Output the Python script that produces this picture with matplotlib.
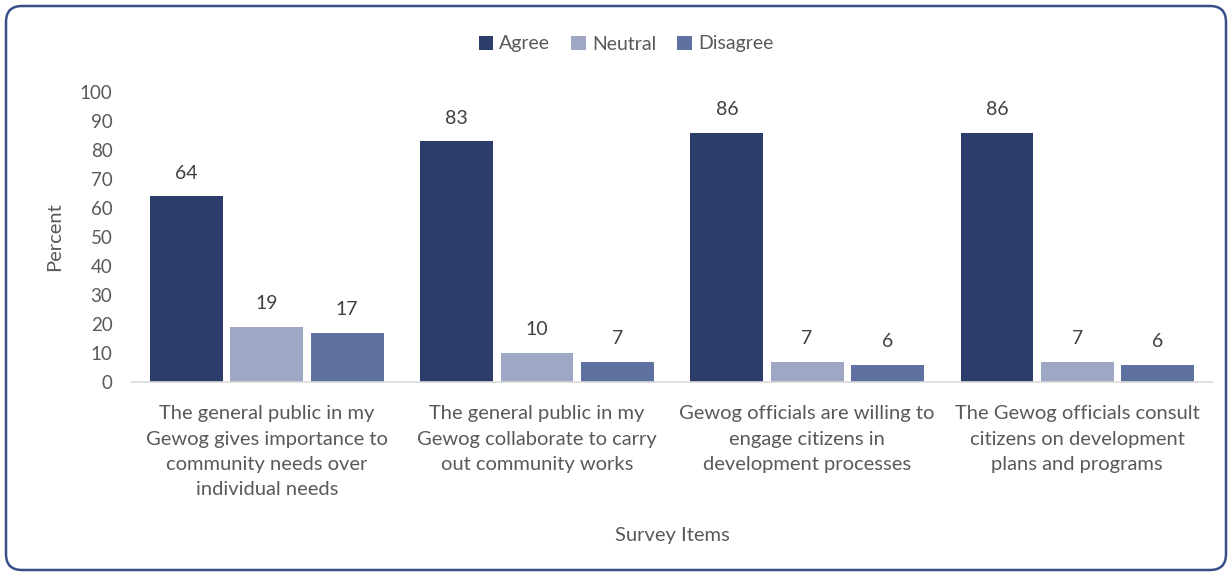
import numpy as np
import matplotlib.pyplot as plt
from matplotlib.patches import FancyBboxPatch

plt.rcParams['font.family'] = ['Lato', 'DejaVu Sans']

items = ["The general public in my\nGewog gives importance to\ncommunity needs over\nindividual needs",
         "The general public in my\nGewog collaborate to carry\nout community works",
         "Gewog officials are willing to\nengage citizens in\ndevelopment processes",
         "The Gewog officials consult\ncitizens on development\nplans and programs"]
agree = [64, 83, 86, 86]
neutral = [19, 10, 7, 7]
disagree = [17, 7, 6, 6]

grey = '#595959'
colors = ['#2c3d6b', '#9ea8c4', '#5f71a0']

fig = plt.figure(figsize=(12.32, 5.76), dpi=100)
ax = fig.add_axes([0.107, 0.337, 0.877, 0.503])

x = np.arange(len(items))
w = 0.27
off = 0.297
series = [('Agree', agree), ('Neutral', neutral), ('Disagree', disagree)]
for i, (name, vals) in enumerate(series):
    bars = ax.bar(x + (i - 1) * off, vals, w, color=colors[i], label=name)
    for b, v in zip(bars, vals):
        ax.text(b.get_x() + b.get_width() / 2, v + 5, str(v), ha='center', va='bottom',
                fontsize=14, color='#404040')

ax.set_xlim(-0.5, len(items) - 0.5)
ax.set_ylim(0, 100)
ax.set_yticks(np.arange(0, 101, 10))
ax.set_xticks(x)
ax.set_xticklabels(items, fontsize=14.5, color=grey, linespacing=1.58)
ax.tick_params(axis='y', length=0, labelsize=13.5, labelcolor=grey, pad=14)
ax.tick_params(axis='x', length=0, pad=17)
for s in ['top', 'right', 'left']:
    ax.spines[s].set_visible(False)
ax.spines['bottom'].set_color('#d9d9d9')
ax.spines['bottom'].set_linewidth(1.2)

ax.set_ylabel('Percent', fontsize=14.5, color=grey, labelpad=12)
ax.set_xlabel('Survey Items', fontsize=14.5, color=grey, labelpad=21)

fig.legend(loc='center', bbox_to_anchor=(0.508, 1 - 44 / 576), ncol=3, frameon=False,
           fontsize=14, labelcolor=grey, handlelength=0.75, handleheight=0.75,
           handletextpad=0.3, columnspacing=1.1)

# rounded frame around the whole chart
frame = FancyBboxPatch((6, 6), 1220, 564, boxstyle='round,pad=0,rounding_size=16',
                       transform=None, fill=False, edgecolor='#3a4f8a', linewidth=1.8)
fig.patches.append(frame)

fig.savefig('out.png', dpi=100)
